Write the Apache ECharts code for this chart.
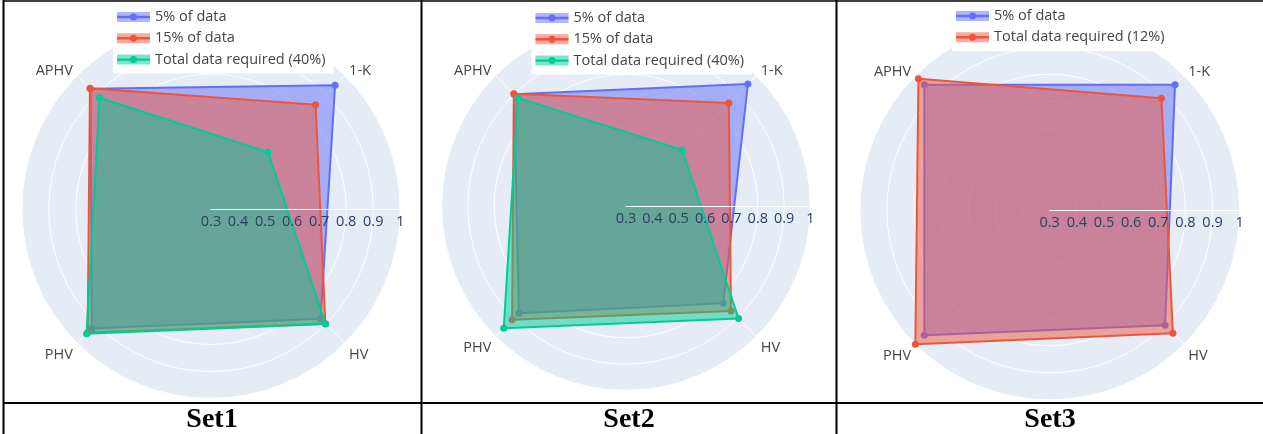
<!DOCTYPE html>
<html>
<head>
<meta charset="utf-8">
<script src="https://cdn.jsdelivr.net/npm/echarts@6/dist/echarts.min.js"></script>
<style>
  html, body { margin: 0; padding: 0; background: #fff; }
  #chart { width: 1263px; height: 434px; }
</style>
</head>
<body>
<div id="chart"></div>
<script>
// Radar axes (counter-clockwise from the upper right)
const indicators = ['1-K', 'APHV', 'PHV', 'HV'];
const lowerIndicators = ['PHV', 'HV'];
const radialMin = 0.3;
const radialMax = 1;
const radialStep = 0.1;

// Set1
const set1Names = ['5% of data', '15% of data', 'Total data required (40%)'];
const set1Data5 = [0.949, 0.930, 0.923, 0.873];
const set1Data15 = [0.847, 0.933, 0.945, 0.898];
const set1Total = [0.598, 0.883, 0.951, 0.900];

// Set2
const set2Names = ['5% of data', '15% of data', 'Total data required (40%)'];
const set2Data5 = [0.954, 0.900, 0.875, 0.822];
const set2Data15 = [0.852, 0.902, 0.911, 0.863];
const set2Total = [0.601, 0.880, 0.956, 0.904];

// Set3
const set3Names = ['5% of data', 'Total data required (12%)'];
const set3Data5 = [0.953, 0.953, 0.953, 0.901];
const set3Total = [0.882, 0.984, 1.000, 0.942];

const panelTitles = ['Set1', 'Set2', 'Set3'];

const COLORS = ['#636efa', '#EF553B', '#00cc96'];
const FILLS = ['rgba(99,110,250,0.5)', 'rgba(239,85,59,0.5)', 'rgba(0,204,150,0.5)'];
const TEXT = '#444';
const FONT = 'Open Sans';

const panels = [
  { names: set1Names, values: [set1Data5, set1Data15, set1Total],
    center: [211, 209.3], radius: 189.3, legendLeft: 113, legendTop: 0, titleX: 212 },
  { names: set2Names, values: [set2Data5, set2Data15, set2Total],
    center: [626, 206], radius: 184.5, legendLeft: 531.5, legendTop: 1, titleX: 629 },
  { names: set3Names, values: [set3Data5, set3Total],
    center: [1049.7, 210], radius: 190, legendLeft: 952, legendTop: -1, titleX: 1050 }
];

const radar = [], series = [], legend = [], grid = [], xAxis = [], yAxis = [];

panels.forEach((p, i) => {
  radar.push({
    center: p.center,
    radius: p.radius,
    startAngle: 45,
    shape: 'circle',
    splitNumber: Math.round((radialMax - radialMin) / radialStep),
    indicator: indicators.map(n => ({ name: n, min: radialMin, max: radialMax })),
    nameGap: 6,
    axisName: {
      color: TEXT, fontSize: 14.5, fontFamily: FONT,
      // names below the center sit a little lower
      formatter: name => lowerIndicators.includes(name) ? '{lo|' + name + '}' : name,
      rich: { lo: { color: TEXT, fontSize: 14.5, fontFamily: FONT, padding: [14, 0, 0, 0] } }
    },
    splitArea: { show: true, areaStyle: { color: ['#E5ECF6'] } },
    splitLine: { lineStyle: { color: '#ffffff', width: 1 } },
    axisLine: { lineStyle: { color: '#ffffff', width: 1 } },
    axisTick: { show: false },
    axisLabel: { show: false }
  });

  p.values.forEach((vals, k) => {
    series.push({
      type: 'radar',
      radarIndex: i,
      name: p.names[k],
      symbol: 'circle',
      symbolSize: 7,
      z: 2 + k,
      data: [{
        name: p.names[k],
        value: vals,
        itemStyle: { color: COLORS[k] },
        lineStyle: { color: COLORS[k], width: 2 },
        areaStyle: { color: FILLS[k], opacity: 1 }
      }]
    });
  });

  // legend: translucent swatch with labels
  const common = {
    orient: 'vertical',
    left: p.legendLeft,
    top: p.legendTop,
    padding: [9, 8, 6, 4],
    itemGap: 5.3,
    itemWidth: 33,
    selectedMode: false,
    textStyle: { fontSize: 14.5, fontFamily: FONT, lineHeight: 16, color: TEXT }
  };
  legend.push(Object.assign({}, common, {
    backgroundColor: '#ffffff',
    itemHeight: 10,
    icon: 'rect',
    z: 6,
    data: p.names.map((n, k) => ({ name: n, itemStyle: { color: FILLS[k], borderWidth: 0 } }))
  }));
  // legend: line + marker drawn over the swatch
  legend.push(Object.assign({}, common, {
    itemHeight: 8,
    icon: 'path://M0,2.8 L33,2.8 L33,5.2 L0,5.2 Z M20,4 A3.5,3.5 0 1 1 13,4 A3.5,3.5 0 1 1 20,4 Z',
    z: 7,
    textStyle: Object.assign({}, common.textStyle, { color: 'rgba(0,0,0,0)' }),
    data: p.names.map((n, k) => ({ name: n, itemStyle: { color: COLORS[k], borderWidth: 0 } }))
  }));

  // radial axis drawn along angle 0, from the center outwards
  grid.push({ left: p.center[0], top: p.center[1] - 20, width: p.radius, height: 20 });
  xAxis.push({
    gridIndex: i,
    type: 'value',
    min: radialMin,
    max: radialMax,
    interval: radialStep,
    position: 'bottom',
    z: 10,
    axisLine: { show: true, lineStyle: { color: '#ffffff', width: 1 } },
    axisTick: { show: false },
    splitLine: { show: false },
    axisLabel: {
      color: '#2a3f5f', fontSize: 14.5, fontFamily: FONT, margin: 5,
      showMinLabel: true, showMaxLabel: true
    }
  });
  yAxis.push({ gridIndex: i, type: 'value', show: false });
});

// table frame and cell captions
const graphic = [];
const line = (x1, y1, x2, y2, w) => ({
  type: 'line', z: 20,
  shape: { x1, y1, x2, y2 },
  style: { stroke: '#000', lineWidth: w }
});
graphic.push(line(3, 1, 1263, 1, 1.5));
graphic.push(line(3.5, 0, 3.5, 434, 2));
graphic.push(line(421.5, 0, 421.5, 434, 2));
graphic.push(line(836.5, 0, 836.5, 434, 2));
graphic.push(line(3, 403, 1263, 403, 2));
panels.forEach((p, i) => {
  graphic.push({
    type: 'text', z: 20,
    x: p.titleX, y: 420,
    style: {
      text: panelTitles[i],
      fill: '#000',
      font: 'bold 28px "Liberation Serif", "Times New Roman", serif',
      textAlign: 'center',
      textVerticalAlign: 'middle'
    }
  });
});

const chart = echarts.init(document.getElementById('chart'), null, { renderer: 'canvas' });
chart.setOption({
  animation: false,
  backgroundColor: '#ffffff',
  radar, series, legend, grid, xAxis, yAxis, graphic
});
</script>
</body>
</html>
